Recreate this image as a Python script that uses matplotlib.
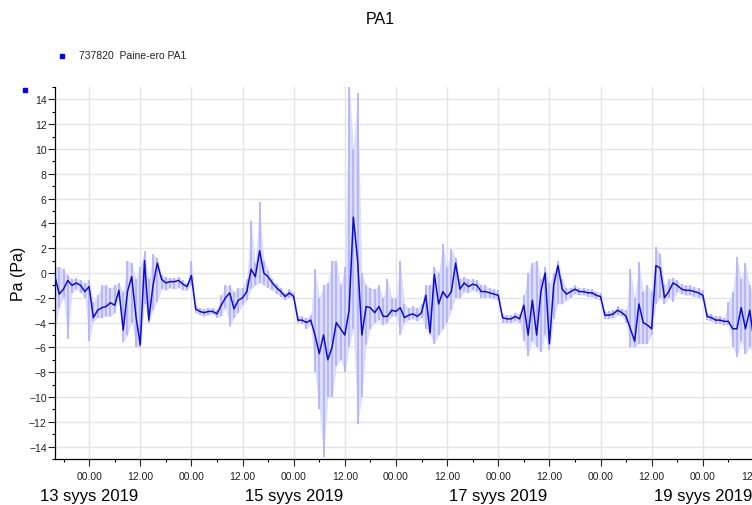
import matplotlib
matplotlib.use('Agg')
import matplotlib.pyplot as plt
import matplotlib.dates as mdates
from matplotlib.lines import Line2D
from matplotlib.ticker import MultipleLocator
import pandas as pd

plt.rcParams['font.family'] = ['Liberation Sans', 'DejaVu Sans']

######
#   Hourly values, from 12 Sep 2019 16:00
######
start_time = '2019-09-12 16:00'

pa_mean = [
    -0.3, -1.7, -1.3, -0.6, -1.0, -0.8, -1.0, -1.5,
    -1.1, -3.6, -3.0, -2.8, -2.7, -2.4, -2.6, -1.4, -4.6, -1.5, -0.3, -3.5,
    -5.8, 1.0, -3.8, -1.0, 0.8, -0.5, -0.8, -0.7, -0.7, -0.6, -0.9, -1.1,
    -0.2, -2.9, -3.1, -3.2, -3.1, -3.1, -3.3, -2.6, -2.0, -1.6, -2.9, -2.2,
    -2.0, -1.5, 0.3, -0.3, 1.8, 0.0, -0.3, -0.8, -1.2, -1.5, -1.9, -1.6,
    -1.9, -3.8, -3.8, -4.0, -3.8, -5.0, -6.5, -5.0, -7.0, -6.0, -4.0, -4.5,
    -5.0, -3.0, 4.5, 1.0, -5.0, -2.7, -2.8, -3.2, -2.7, -3.5, -3.5, -3.0,
    -3.1, -2.8, -3.6, -3.4, -3.3, -3.5, -3.2, -1.8, -4.8, -0.1, -2.5, -1.5,
    -2.0, -1.5, 0.8, -1.3, -0.8, -1.1, -0.9, -1.0, -1.5, -1.5, -1.6, -1.7,
    -1.8, -3.6, -3.7, -3.7, -3.5, -3.7, -2.6, -5.0, -2.2, -5.0, -1.5, 0.0,
    -5.7, -1.0, 0.6, -1.3, -1.7, -1.5, -1.3, -1.5, -1.5, -1.6, -1.6, -1.8,
    -1.9, -3.4, -3.4, -3.3, -3.0, -3.2, -3.5, -4.5, -5.5, -2.5, -4.0, -4.2,
    -4.5, 0.6, 0.4, -2.0, -1.5, -0.8, -1.0, -1.3, -1.4, -1.4, -1.5, -1.6,
    -1.8, -3.5, -3.6, -3.8, -3.8, -3.9, -3.9, -4.5, -4.5, -2.8, -4.5, -3.0,
    -5.5,
]

pa_max = [
    0.5, 0.5, 0.3, -0.2, -0.5, -0.4, -0.6, -0.8,
    -0.6, -2.3, -1.8, -1.0, -1.0, -1.2, -1.0, -0.8, -1.5, 1.0, 0.8, -0.5,
    0.5, 1.8, -0.5, 1.5, 1.2, -0.2, -0.3, -0.4, -0.4, -0.3, -0.6, -0.8,
    1.0, -2.6, -2.8, -2.9, -2.8, -2.8, -3.0, -1.8, -1.0, -1.0, -1.5, -1.2,
    -1.2, -0.5, 4.2, 0.8, 5.7, 1.0, 0.2, -0.5, -0.9, -1.2, -1.6, -1.3,
    -1.6, -3.5, -3.5, -3.6, -3.4, 0.3, -2.0, -1.0, -0.8, 1.0, 1.0, -1.0,
    0.5, 15.5, 10.0, 14.5, 0.0, -1.0, -1.2, -1.3, -1.0, -2.0, -0.5, -2.0,
    -2.0, 1.0, -2.5, -2.8, -2.7, -2.8, -2.5, -1.0, -1.0, 0.5, 0.0, 2.3,
    0.5, 1.9, 1.2, -0.5, -0.3, -0.5, -0.5, -0.6, -1.0, -1.0, -1.2, -1.3,
    -1.4, -3.3, -3.4, -3.4, -3.2, -3.3, -1.8, 0.0, 0.8, 1.0, -0.5, 0.5,
    -0.8, 0.0, 1.0, -0.5, -1.2, -1.2, -1.0, -1.2, -1.2, -1.3, -1.3, -1.5,
    -1.6, -3.1, -3.1, -3.0, -2.7, -2.9, -3.0, 0.3, -2.0, 0.9, -1.5, -1.0,
    -1.5, 2.1, 1.5, -1.0, -0.5, -0.4, -0.6, -0.9, -1.0, -1.0, -1.1, -1.2,
    -1.4, -3.2, -3.3, -3.5, -3.5, -3.6, -2.3, -1.5, 1.3, -0.5, 0.8, -1.0,
    -2.0,
]

pa_min = [
    -4.5, -2.8, -2.0, -5.3, -1.6, -1.3, -1.6, -2.0,
    -5.5, -3.9, -3.6, -3.6, -3.5, -3.5, -3.2, -2.0, -5.6, -5.0, -4.0, -6.0,
    -6.0, -2.5, -4.0, -3.0, -2.3, -1.3, -1.4, -1.2, -1.3, -1.2, -1.4, -1.4,
    -1.0, -3.2, -3.4, -3.5, -3.4, -3.3, -3.6, -3.5, -2.8, -4.3, -3.6, -3.2,
    -2.6, -2.2, -1.3, -1.0, -0.8, -1.0, -1.2, -1.4, -1.7, -1.9, -2.2, -2.0,
    -2.2, -4.0, -4.1, -4.5, -4.2, -8.0, -11.0, -14.8, -10.0, -10.0, -7.5, -7.0,
    -8.0, -6.0, -4.5, -12.2, -10.0, -5.8, -4.5, -4.0, -3.8, -4.2, -4.0, -3.5,
    -3.5, -5.0, -4.0, -3.8, -3.7, -3.9, -3.6, -4.5, -5.0, -5.7, -5.0, -4.5,
    -4.0, -3.0, -2.0, -2.0, -1.5, -1.6, -1.4, -1.5, -2.0, -2.0, -2.0, -2.1,
    -2.2, -4.0, -4.0, -4.0, -3.9, -4.0, -5.5, -6.7, -5.5, -6.0, -6.4, -5.0,
    -6.2, -3.7, -2.5, -2.5, -2.2, -2.0, -1.7, -1.8, -1.8, -1.9, -1.9, -2.1,
    -2.2, -3.7, -3.7, -3.6, -3.4, -3.5, -4.0, -6.0, -6.0, -5.7, -5.7, -5.7,
    -5.0, -2.5, -2.0, -2.5, -2.0, -2.3, -1.5, -1.7, -1.8, -1.8, -1.9, -2.0,
    -2.2, -3.8, -3.9, -4.1, -4.1, -4.2, -4.2, -6.0, -6.8, -5.5, -6.5, -6.0,
    -6.5,
]

date_labels = ['13 syys 2019', '15 syys 2019', '17 syys 2019', '19 syys 2019']
date_label_days = ['2019-09-13', '2019-09-15', '2019-09-17', '2019-09-19']

times = pd.date_range(start_time, periods=len(pa_mean), freq='h')

######
#   Figure
######
fig = plt.figure(figsize=(7.52, 5.06), dpi=100)
ax = fig.add_axes([55 / 752, 1 - 460 / 506, 699 / 752, 372 / 506])

# min/max range: pale band plus a spike per reading
ax.fill_between(times, pa_min, pa_max, color='#dcdcfd', linewidth=0, zorder=2)
ax.vlines(times, pa_min, pa_max, color='#b4b4f8', linewidth=1.3, zorder=2)
ax.plot(times, pa_mean, color='#0c0cd2', linewidth=1.1, zorder=3)

ax.set_xlim(pd.Timestamp('2019-09-12 16:00'), pd.Timestamp('2019-09-19 12:00'))
ax.set_ylim(-15, 15)

ax.yaxis.set_major_locator(MultipleLocator(2))
ax.yaxis.set_minor_locator(MultipleLocator(1))
ax.xaxis.set_major_locator(mdates.HourLocator(byhour=[0, 12]))
ax.xaxis.set_minor_locator(mdates.HourLocator(byhour=[6, 18]))
ax.xaxis.set_major_formatter(mdates.DateFormatter('%H.%M'))

ax.tick_params(which='major', length=5, width=0.8, labelsize=7.5, colors='#222222')
ax.tick_params(which='minor', length=2.5, width=0.8)
ax.tick_params(axis='x', pad=4)
ax.tick_params(axis='y', pad=1)

ax.grid(True, which='major', color='#e4e4e4', linewidth=1.0, zorder=0)
ax.set_axisbelow(True)
for side in ['top', 'right']:
    ax.spines[side].set_visible(False)
for side in ['left', 'bottom']:
    ax.spines[side].set_linewidth(0.9)

ax.set_ylabel('Pa (Pa)', fontsize=11.5)
ax.yaxis.set_label_coords(-29 / 699, 0.5)

# date row under the hour labels
for day, label in zip(date_label_days, date_labels):
    ax.text(pd.Timestamp(day), -0.097, label, transform=ax.get_xaxis_transform(),
            ha='center', va='center', fontsize=12)

fig.suptitle('PA1', x=0.505, y=0.977, fontsize=11.5)

# legend entry and corner marker
fig.add_artist(Line2D([62 / 752], [1 - 57 / 506], marker='s', markersize=3.5,
                      color='#0000ee', linestyle='none'))
fig.text(79 / 752, 1 - 56 / 506, '737820  Paine-ero PA1', fontsize=7.5,
         va='center', ha='left', color='#222222')
fig.add_artist(Line2D([25 / 752], [1 - 91 / 506], marker='s', markersize=3.5,
                      color='#0000ee', linestyle='none'))

plt.savefig('out.png', dpi=100)
